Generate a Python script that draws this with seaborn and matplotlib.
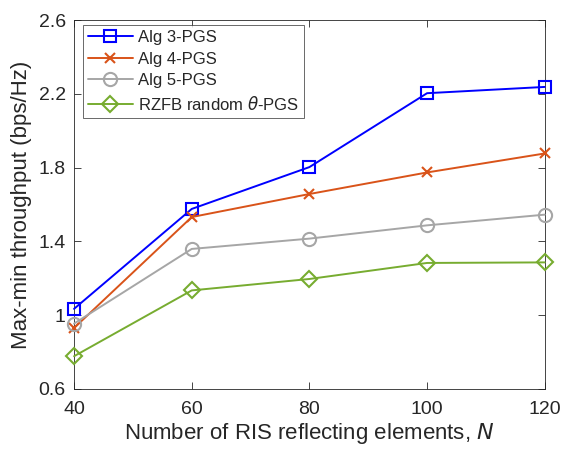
import numpy as np
import pandas as pd
import matplotlib
matplotlib.use("Agg")
import matplotlib.pyplot as plt
import seaborn as sns

# data
N = [40, 60, 80, 100, 120]
alg3 = [1.034, 1.576, 1.803, 2.204, 2.238]
alg4 = [0.930, 1.532, 1.657, 1.774, 1.877]
alg5 = [0.954, 1.359, 1.415, 1.487, 1.545]
rzfb = [0.777, 1.134, 1.196, 1.283, 1.286]

labels = ["Alg 3-PGS", "Alg 4-PGS", "Alg 5-PGS", r"RZFB random $\theta$-PGS"]
colors = ["#0000FF", "#D95319", "#A6A6A6", "#77AC30"]
markers = ["s", "x", "o", "D"]
msizes = [8.5, 7, 9.5, 8.5]

yticks = [0.6, 1, 1.4, 1.8, 2.2, 2.6]
ytick_labels = ["0.6", "1", "1.4", "1.8", "2.2", "2.6"]

sns.set_style("ticks")
plt.rcParams["font.family"] = ["Liberation Sans", "DejaVu Sans"]
plt.rcParams["mathtext.fontset"] = "dejavusans"

fig = plt.figure(figsize=(5.61, 4.49), dpi=100)
ax = fig.add_axes([0.132, 0.134, 0.839, 0.821])

for series, lab, c, m, ms in zip([alg3, alg4, alg5, rzfb], labels, colors, markers, msizes):
    sns.lineplot(x=N, y=series, ax=ax, color=c, marker=m, markersize=ms,
                 mfc="none", mec=c, mew=1.5, linewidth=1.4, label=lab,
                 clip_on=False, zorder=3)

ax.set_xlim(40, 120)
ax.set_ylim(0.6, 2.6)
ax.set_xticks(N)
ax.set_yticks(yticks)
ax.set_yticklabels(ytick_labels)
ax.tick_params(direction="in", top=True, right=True, labelsize=14,
               colors="#262626", length=5, width=0.6)
ax.tick_params(axis="x", pad=9)
ax.tick_params(axis="y", pad=6)
for s in ax.spines.values():
    s.set_visible(True)
    s.set_color("#262626")
    s.set_linewidth(0.6)

ax.set_xlabel("Number of RIS reflecting elements, $N$", fontsize=16, color="#262626", labelpad=2)
ax.set_ylabel("Max-min throughput (bps/Hz)", fontsize=16, color="#262626", labelpad=5)

leg = ax.legend(loc="upper left", bbox_to_anchor=(0.019, 0.987), fontsize=12,
                frameon=True, fancybox=False, handlelength=2.7, handletextpad=0.3,
                labelspacing=0.4, borderpad=0.3, borderaxespad=0.0)
leg.get_frame().set_edgecolor("#262626")
leg.get_frame().set_linewidth(0.6)
leg.set_zorder(5)

plt.savefig("out.png", dpi=100)
plt.close()
